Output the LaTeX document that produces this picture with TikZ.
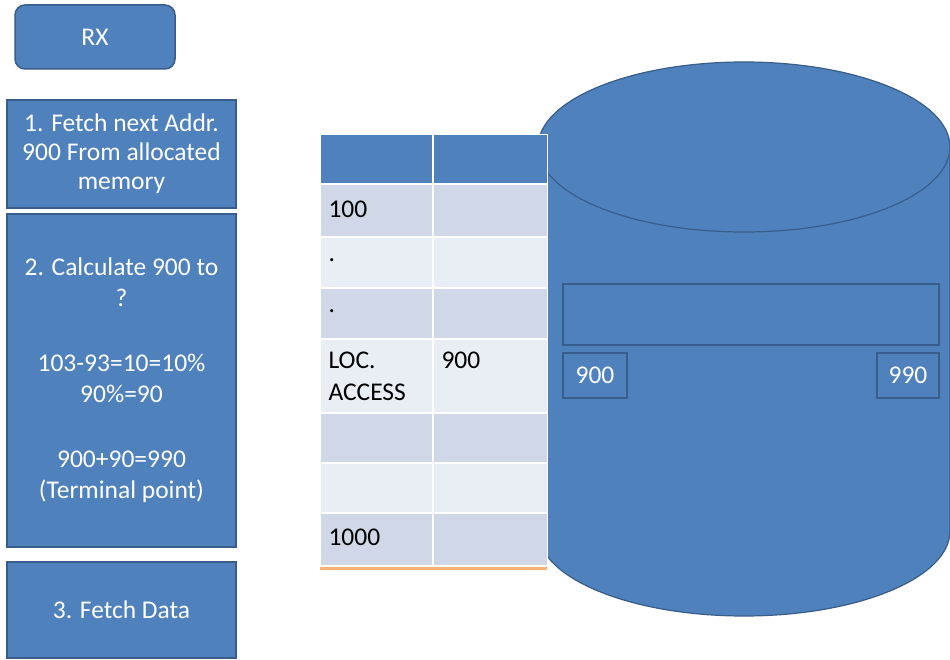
\documentclass[tikz,border=0pt]{standalone}
\usepackage{fontspec}
\setmainfont{Carlito}
\usetikzlibrary{calc}

\definecolor{boxblue}{HTML}{4F81BD}
\definecolor{edgeblue}{HTML}{385D8A}
\definecolor{rowdark}{HTML}{D0D8E8}
\definecolor{rowlight}{HTML}{E9EDF4}
\definecolor{lineorange}{HTML}{F9B27A}

\begin{document}
\begin{tikzpicture} [x=1pt,y=-1pt,
  stepbox/.style={draw=edgeblue,line width=1.5pt,fill=boxblue,text=white,align=center,
    minimum width=229pt,font=\fontsize{25.5}{29}\selectfont},
  slot/.style={draw=edgeblue,line width=1.2pt,fill=boxblue,text=white,
    font=\fontsize{25.5}{28}\selectfont},
  cell/.style={anchor=west,align=left,text=black,font=\fontsize{25.5}{32}\selectfont}]

\useasboundingbox (0,0) rectangle (950,660);

% left column
\node[stepbox,rounded corners=10pt,minimum width=160pt,minimum height=64pt] (rx) at (95,37) {RX};
\node[stepbox,minimum height=108pt] (fetch) at (121.5,154) {1. Fetch next Addr.\\900 From allocated\\memory};
\node[stepbox,minimum height=333pt,font=\fontsize{25.5}{31}\selectfont] (calc) at (121.5,380.5)
  {2. Calculate 900 to\\?\\[34pt]103-93=10=10\%\\90\%=90\\[34pt]900+90=990\\(Terminal point)};
\node[stepbox,minimum height=96pt] (data) at (121.5,610) {3. Fetch Data};

% disk
\coordinate (top) at (744,147);
\coordinate (bot) at (744,531);
\fill[boxblue] (538,147) rectangle (950,531);
\filldraw[fill=boxblue,draw=edgeblue,line width=1.2pt]
  (538,147) -- (538,531) arc[start angle=180,end angle=360,x radius=206,y radius=-85] -- (950,147);
\filldraw[fill=boxblue,draw=edgeblue,line width=1.2pt] (top) ellipse[x radius=206,y radius=85];

\node[slot,minimum width=376pt,minimum height=61pt] (range) at (751,314.5) {};
\node[slot,minimum width=64pt,minimum height=45pt] (start) at (595,375.5) {900};
\node[slot,minimum width=62pt,minimum height=45pt] (stop) at (908,375.5) {990};

% table
\fill[boxblue] (320,135) rectangle (547,184);
\fill[rowdark] (320,184) rectangle (547,237);
\fill[rowlight] (320,237) rectangle (547,288);
\fill[rowdark] (320,288) rectangle (547,339);
\fill[rowlight] (320,339) rectangle (547,413);
\fill[rowdark] (320,413) rectangle (547,463);
\fill[rowlight] (320,463) rectangle (547,513);
\fill[rowdark] (320,513) rectangle (547,565);
\draw[white,line width=2pt] (433,135) -- (433,565);
\draw[white,line width=2pt] (320,184) -- (547,184) (320,237) -- (547,237) (320,288) -- (547,288)
  (320,339) -- (547,339) (320,413) -- (547,413) (320,463) -- (547,463) (320,513) -- (547,513);
\draw[white,line width=1pt] (320,135) rectangle (547,565);
\draw[lineorange,line width=3pt] (320,568) -- (547,568);

\node[cell] (first) at (325,209) {100};
\node[cell] (dotA) at (325,260) {.};
\node[cell] (dotB) at (325,311) {.};
\node[cell,anchor=north west] (loc) at (325,348) {LOC.\\ACCESS};
\node[cell,anchor=north west] (addr) at (438,348) {900};
\node[cell] (last) at (325,537) {1000};

\end{tikzpicture}
\end{document}
